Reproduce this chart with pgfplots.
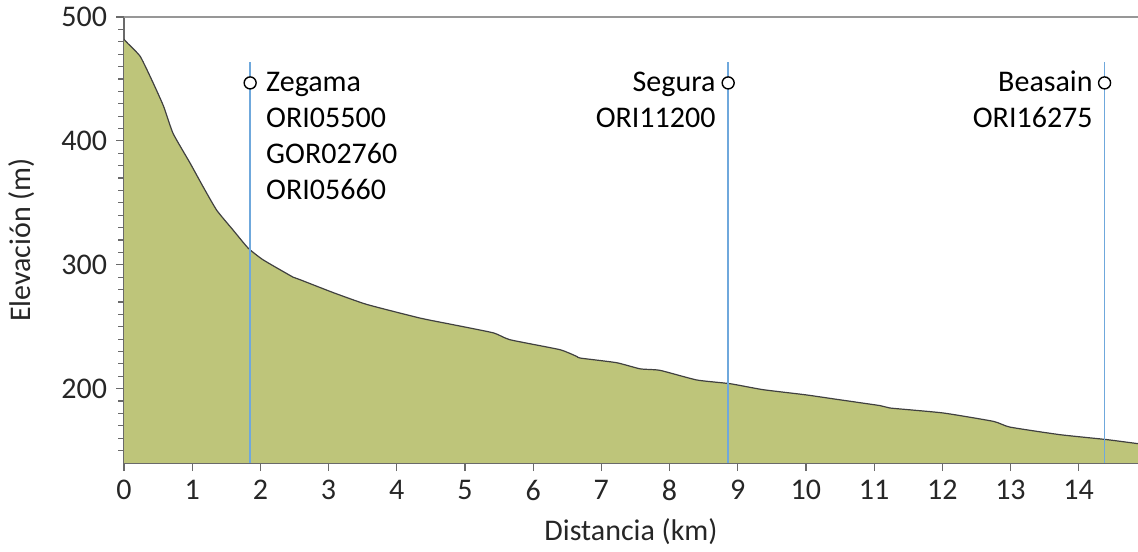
\documentclass[border=0pt]{standalone}
\usepackage{pgfplots}
\pgfplotsset{compat=1.18}
\usepackage{fontspec}
\setmainfont{Carlito}
\definecolor{terrain}{HTML}{BEC57A}
\definecolor{edge}{HTML}{404040}
\definecolor{vline}{HTML}{6FA8DC}
\definecolor{axgray}{HTML}{6A6A6A}
\definecolor{txt}{HTML}{262626}
\pgfplotstableread{
x y
0.00 482
0.05 479
0.24 468
0.43 446.5
0.58 428
0.72 406
0.97 382
1.16 363
1.36 344
1.60 328
1.82 313.5
2.04 304
2.48 290
2.58 288
3.07 277.5
3.56 268
4.34 257
4.83 251.6
5.42 245
5.66 239.5
6.39 231.5
6.64 226
6.69 224.7
7.22 221
7.57 216
7.86 214.8
8.40 207
8.89 204
9.37 199.2
10.00 195
10.50 191
11.09 186.3
11.23 184.4
12.01 180.4
12.75 173.6
12.99 169
13.72 162.9
14.41 158.9
14.87 155.6
}\profile
\begin{document}
\begin{tikzpicture}
\begin{axis}[
  at={(62bp,44.5bp)}, anchor=south west,
  scale only axis, width=507bp, height=223bp,
  xmin=0, xmax=14.87, ymin=140, ymax=500,
  xtick={0,1,...,14}, ytick={200,300,400,500},
  minor ytick={150,160,...,490},
  tick align=outside,
  major tick length=4bp, minor tick length=3bp,
  axis x line*=bottom, axis y line*=left,
  axis line style={axgray, line width=0.8bp},
  every tick/.style={axgray, line width=0.6bp},
  every minor tick/.style={axgray, line width=0.6bp},
  /pgf/number format/assume math mode=true,
  ticklabel style={font=\fontsize{15bp}{18bp}\selectfont, text=txt},
  xticklabel style={yshift=-1bp},
  yticklabel style={xshift=-1bp},
  xlabel={Distancia (km)}, ylabel={Elevación (m)},
  label style={font=\fontsize{15bp}{18bp}\selectfont, text=txt},
  xlabel style={at={(axis description cs:0.5,-0.1547)}, anchor=center},
  ylabel style={at={(axis description cs:-0.1006,0.5)}, anchor=center},
]
\addplot[fill=terrain, draw=none, smooth, tension=0.3] table {\profile} -- (axis cs:14.87,140) -- (axis cs:0,140) -- cycle;
\addplot[edge, line width=0.6bp, smooth, tension=0.3] table {\profile};
\addplot[vline, line width=0.8bp] coordinates {(1.85,140) (1.85,463.7)};
\addplot[vline, line width=0.8bp] coordinates {(8.86,140) (8.86,463.7)};
\addplot[vline, line width=0.8bp] coordinates {(14.38,140) (14.38,463.7)};
\addplot[only marks, mark=*, mark size=3bp, mark options={fill=white, draw=black, line width=0.7bp}] coordinates {(1.85,446.8) (8.86,446.8) (14.38,446.8)};
\begin{scope}[every node/.style={font=\fontsize{15bp}{18bp}\selectfont, text=black, inner sep=0pt}]
\node[anchor=base west] at (axis cs:2.08,439.9) {Zegama};
\node[anchor=base west] at (axis cs:2.08,411.0) {ORI05500};
\node[anchor=base west] at (axis cs:2.08,382.0) {GOR02760};
\node[anchor=base west] at (axis cs:2.08,353.0) {ORI05660};
\node[anchor=base east] at (axis cs:8.68,439.9) {Segura};
\node[anchor=base east] at (axis cs:8.68,411.0) {ORI11200};
\node[anchor=base east] at (axis cs:14.21,439.9) {Beasain};
\node[anchor=base east] at (axis cs:14.21,411.0) {ORI16275};
\end{scope}
\draw[axgray!70, line width=0.6bp] (rel axis cs:0,1) -- (rel axis cs:1,1);
\end{axis}
\pgfresetboundingbox
\path (0,0) rectangle (569bp,276bp);
\end{tikzpicture}
\end{document}
